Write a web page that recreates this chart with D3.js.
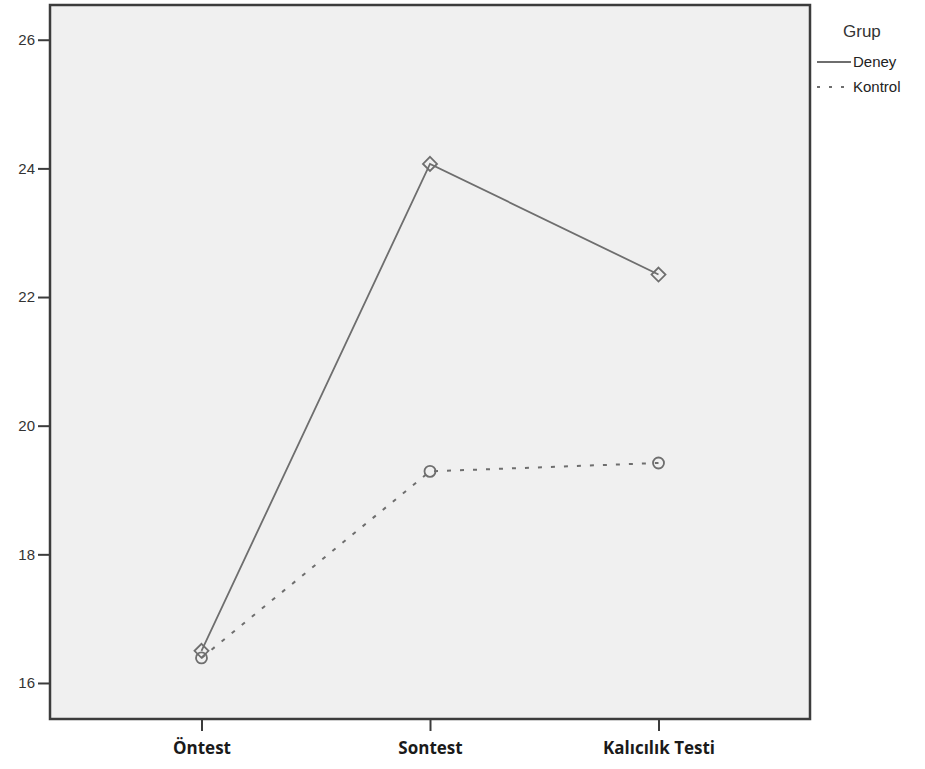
<!DOCTYPE html>
<html>
<head>
<meta charset="utf-8">
<script src="https://cdn.jsdelivr.net/npm/d3@7"></script>
<style>
  body { margin: 0; background: #fff; }
  svg { display: block; }
</style>
</head>
<body>
<svg id="chart"></svg>
<script>
// Chart data
const categories = ["Öntest", "Sontest", "Kalıcılık Testi"];
const deneyValues = [16.50, 24.07, 22.35];
const kontrolValues = [16.39, 19.29, 19.42];
const yTicks = [16, 18, 20, 22, 24, 26];
const groupNames = ["Deney", "Kontrol"];

const W = 925, H = 769;
const plot = { left: 50, top: 5, right: 810, bottom: 719 };

const svg = d3.select("#chart").attr("width", W).attr("height", H);

// background + frame
svg.append("rect")
  .attr("x", plot.left).attr("y", plot.top)
  .attr("width", plot.right - plot.left)
  .attr("height", plot.bottom - plot.top)
  .attr("fill", "#f0f0f0")
  .attr("stroke", "#3c3c3c")
  .attr("stroke-width", 2.5);

const x = d3.scalePoint()
  .domain(categories)
  .range([plot.left, plot.right])
  .padding(0.663);

const y = d3.scaleLinear()
  .domain([15.44, 26.54])
  .range([plot.bottom, plot.top]);

// Y axis
const yAxis = svg.append("g")
  .attr("transform", `translate(${plot.left},0)`)
  .call(d3.axisLeft(y).tickValues(yTicks).tickSize(12).tickPadding(3));
yAxis.select(".domain").remove();
yAxis.selectAll("line").attr("stroke", "#3c3c3c").attr("stroke-width", 2);
yAxis.selectAll("text")
  .attr("fill", "#333")
  .style("font-family", "'Liberation Sans', Arial, sans-serif")
  .style("font-size", "15px");

// X axis
const xAxis = svg.append("g")
  .attr("transform", `translate(0,${plot.bottom})`)
  .call(d3.axisBottom(x).tickSize(12).tickPadding(11));
xAxis.select(".domain").remove();
xAxis.selectAll("line").attr("stroke", "#3c3c3c").attr("stroke-width", 2);
xAxis.selectAll("text")
  .attr("fill", "#1a1a1a")
  .style("font-family", "'Open Sans', 'DejaVu Sans', sans-serif")
  .style("font-weight", "bold")
  .style("font-size", "17px");

const line = d3.line()
  .x((d, i) => x(categories[i]))
  .y(d => y(d));

// Kontrol series (dashed, circles)
svg.append("path")
  .datum(kontrolValues)
  .attr("d", line)
  .attr("fill", "none")
  .attr("stroke", "#6e6e6e")
  .attr("stroke-width", 2)
  .attr("stroke-dasharray", "4,9");

svg.selectAll(".kontrol")
  .data(kontrolValues)
  .enter()
  .append("circle")
  .attr("class", "kontrol")
  .attr("cx", (d, i) => x(categories[i]))
  .attr("cy", d => y(d))
  .attr("r", 5.5)
  .attr("fill", "none")
  .attr("stroke", "#6e6e6e")
  .attr("stroke-width", 1.8);

// Deney series (solid, diamonds)
svg.append("path")
  .datum(deneyValues)
  .attr("d", line)
  .attr("fill", "none")
  .attr("stroke", "#6e6e6e")
  .attr("stroke-width", 1.8);

svg.selectAll(".deney")
  .data(deneyValues)
  .enter()
  .append("path")
  .attr("class", "deney")
  .attr("transform", (d, i) => `translate(${x(categories[i])},${y(d)})`)
  .attr("d", "M0,-7L7,0L0,7L-7,0Z")
  .attr("fill", "none")
  .attr("stroke", "#6e6e6e")
  .attr("stroke-width", 1.8);

// Legend
const legend = svg.append("g").attr("transform", "translate(817,0)");
legend.append("text")
  .attr("x", 26).attr("y", 37)
  .attr("fill", "#333")
  .style("font-family", "'Liberation Sans', Arial, sans-serif")
  .style("font-size", "17px")
  .text("Grup");

groupNames.forEach((name, i) => {
  const ly = 62 + i * 25;
  legend.append("line")
    .attr("x1", 0).attr("x2", 34)
    .attr("y1", ly).attr("y2", ly)
    .attr("stroke", "#6e6e6e")
    .attr("stroke-width", 1.8)
    .attr("stroke-dasharray", i === 0 ? null : "3,9");
  legend.append("text")
    .attr("x", 36).attr("y", ly + 5)
    .attr("fill", "#222")
    .style("font-family", "'Liberation Sans', Arial, sans-serif")
    .style("font-size", "15px")
    .text(name);
});
</script>
</body>
</html>
